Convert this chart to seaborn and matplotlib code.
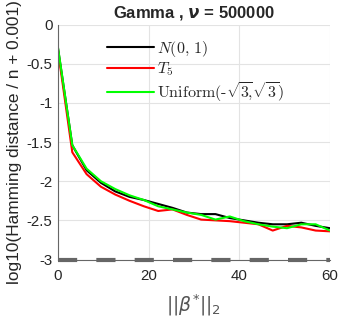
import matplotlib
matplotlib.use("Agg")
import matplotlib.pyplot as plt
import pandas as pd
import seaborn as sns

# norm of beta (x axis)
beta_norm = [0, 3.16, 6.32, 9.47, 12.63, 15.79, 18.95, 22.11, 25.26, 28.42,
             31.58, 34.74, 37.89, 41.05, 44.21, 47.37, 50.53, 53.68, 56.84, 60]

# log10(Hamming distance / n + 0.001) for each noise distribution
normal_vals = [-0.30, -1.54, -1.86, -2.02, -2.13, -2.20, -2.24, -2.29, -2.34, -2.40,
               -2.42, -2.42, -2.47, -2.50, -2.53, -2.55, -2.55, -2.53, -2.57, -2.60]
t5_vals = [-0.33, -1.63, -1.91, -2.07, -2.17, -2.25, -2.32, -2.38, -2.36, -2.43,
           -2.49, -2.50, -2.51, -2.53, -2.55, -2.63, -2.57, -2.59, -2.63, -2.64]
unif_vals = [-0.29, -1.54, -1.84, -2.00, -2.10, -2.18, -2.24, -2.32, -2.36, -2.40,
             -2.43, -2.49, -2.45, -2.51, -2.55, -2.58, -2.60, -2.55, -2.55, -2.63]

series_names = ["normal", "t5", "unif"]
legend_labels = [r"$N(0,\,1)$", r"$T_5$",
                 r"$\mathrm{Uniform}(\text{-}\sqrt{3}\!,\!\sqrt{3})$"]
colors = ["#000000", "#ff0000", "#00ff00"]

floor_value = -3  # log10(0.001)
yticks = [0, -0.5, -1, -1.5, -2, -2.5, -3]
ytick_labels = ["0", "-0.5", "-1", "-1.5", "-2", "-2.5", "-3"]
xticks = [0, 20, 40, 60]

df = pd.DataFrame({
    "beta": beta_norm * 3,
    "value": normal_vals + t5_vals + unif_vals,
    "dist": ["normal"] * 20 + ["t5"] * 20 + ["unif"] * 20,
})

sns.set_style("white")
plt.rcParams["font.family"] = ["Liberation Sans", "DejaVu Sans"]

fig = plt.figure(figsize=(3.43, 3.2), dpi=100)
ax = fig.add_axes([0.169, 0.189, 0.793, 0.734])

sns.lineplot(data=df, x="beta", y="value", hue="dist", hue_order=series_names,
             palette=colors, linewidth=1.5, ax=ax, legend=False)

# floor line (zero Hamming distance)
ax.axhline(floor_value, color="#666666", linewidth=3, dashes=(4.6, 4.6),
           zorder=5, clip_on=False)

ax.set_xlim(0, 60)
ax.set_ylim(-3, 0)
ax.set_xticks(xticks)
ax.set_yticks(yticks)
ax.set_yticklabels(ytick_labels)
ax.tick_params(direction="in", length=3, labelsize=10.8, colors="#555555",
               labelcolor="#262626")
ax.tick_params(axis="y", pad=4)
ax.tick_params(axis="x", pad=7)
ax.grid(True, color="#e3e3e3", linewidth=0.8)
ax.set_axisbelow(True)
for side in ["top", "right"]:
    ax.spines[side].set_visible(False)
for side in ["left", "bottom"]:
    ax.spines[side].set_color("#666666")
    ax.spines[side].set_linewidth(0.8)

ax.set_title(r"Gamma , $\mathbfit{\nu}$ = 500000", fontsize=12,
             fontweight="bold", pad=5, math_fontfamily="dejavusans")
ax.set_ylabel("log10(Hamming distance / n + 0.001)", fontsize=12.4,
              color="#262626", labelpad=3)
ax.set_xlabel(r"$||\beta^{*}||_2$", fontsize=13.5, color="#555555",
              math_fontfamily="dejavusans", labelpad=7)

handles = ax.get_lines()[:3]
leg = ax.legend(handles, legend_labels, loc="upper left",
                bbox_to_anchor=(0.155, 0.967), frameon=False,
                prop={"size": 11.5, "math_fontfamily": "cm"},
                handlelength=3.0, handletextpad=0.15, labelspacing=0.1,
                borderaxespad=0)

fig.savefig("out.png", dpi=100)
